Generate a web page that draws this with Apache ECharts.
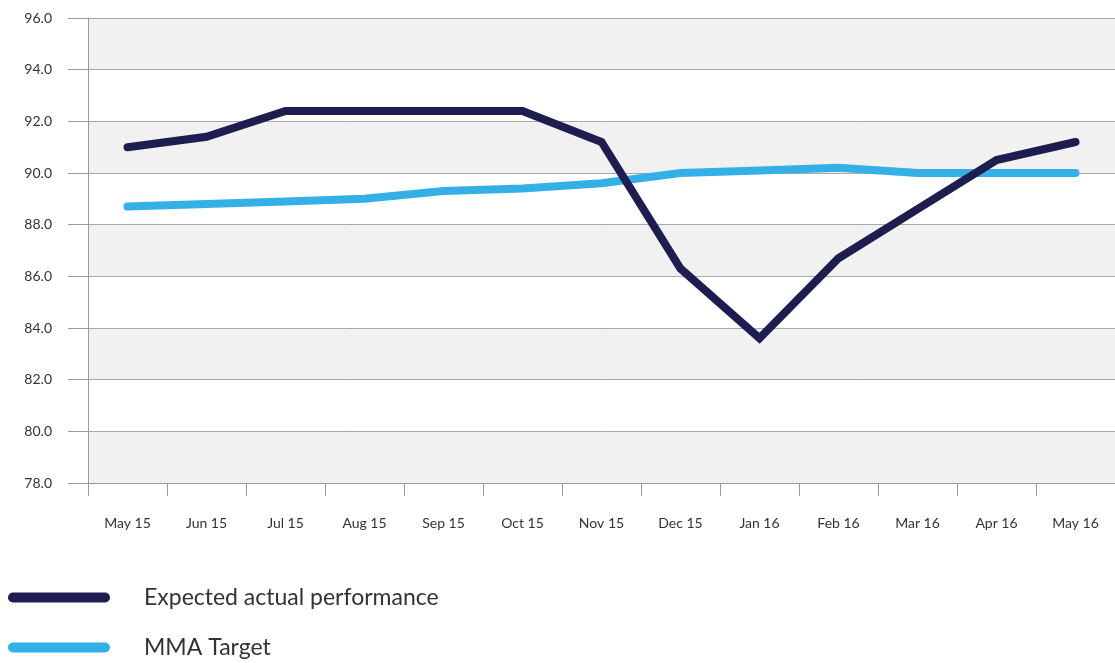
<!DOCTYPE html>
<html>
<head>
<meta charset="utf-8">
<script src="https://cdn.jsdelivr.net/npm/echarts@6/dist/echarts.min.js"></script>
<style>
html,body{margin:0;padding:0;background:#fff;}
#main{width:1115px;height:663px;}
</style>
</head>
<body>
<div id="main"></div>
<script>
const categories = ['May 15','Jun 15','Jul 15','Aug 15','Sep 15','Oct 15','Nov 15','Dec 15','Jan 16','Feb 16','Mar 16','Apr 16','May 16'];
const expectedActual = [91.0, 91.4, 92.4, 92.4, 92.4, 92.4, 91.2, 86.3, 83.6, 86.7, 88.6, 90.5, 91.2];
const mmaTarget = [88.7, 88.8, 88.9, 89.0, 89.3, 89.4, 89.6, 90.0, 90.1, 90.2, 90.0, 90.0, 90.0];
const seriesNames = ['Expected actual performance', 'MMA Target'];

const chart = echarts.init(document.getElementById('main'));
const legendIcon = 'path://M5,0 L97,0 A5,5 0 0 1 97,10 L5,10 A5,5 0 0 1 5,0 Z';
function makeLegend(name, top) {
  return {
    orient: 'vertical',
    left: 3, top: top,
    itemWidth: 102, itemHeight: 10,
    textStyle: {color: '#333', fontFamily: 'Lato', fontSize: 23, padding: [0, 0, 0, 29]},
    data: [{name: name, icon: legendIcon}]
  };
}
chart.setOption({
  animation: false,
  backgroundColor: '#fff',
  grid: {left: 88, right: 0, top: 18, bottom: 180, containLabel: false},
  xAxis: {
    type: 'category',
    data: categories,
    boundaryGap: true,
    axisLine: {show: true, lineStyle: {color: '#9a9a9a', width: 1}},
    axisTick: {show: true, length: 13, lineStyle: {color: '#9a9a9a'}},
    axisLabel: {color: '#333', fontFamily: 'Lato', fontSize: 14, margin: 33, interval: 0},
    splitLine: {show: false}
  },
  yAxis: {
    type: 'value',
    min: 78, max: 96, interval: 2,
    axisLine: {show: true, lineStyle: {color: '#9a9a9a', width: 1}},
    axisTick: {show: true, length: 20, lineStyle: {color: '#9a9a9a'}},
    axisLabel: {color: '#333', fontFamily: 'Lato', fontSize: 14, margin: 36,
      formatter: v => v.toFixed(1)},
    splitLine: {show: true, lineStyle: {color: '#a8a8a8', width: 1}},
    splitArea: {show: true, areaStyle: {color: ['#f1f1f1', '#ffffff']}}
  },
  legend: [makeLegend(seriesNames[0], 581), makeLegend(seriesNames[1], 631)],
  series: [
    {
      name: seriesNames[0], type: 'line', data: expectedActual,
      symbol: 'none', color: '#1e1d4f',
      lineStyle: {width: 8, color: '#1e1d4f', cap: 'round', join: 'miter'},
      z: 3
    },
    {
      name: seriesNames[1], type: 'line', data: mmaTarget,
      symbol: 'none', color: '#35b0e6',
      lineStyle: {width: 8, color: '#35b0e6', cap: 'round', join: 'miter'},
      z: 2
    }
  ]
});
</script>
</body>
</html>
